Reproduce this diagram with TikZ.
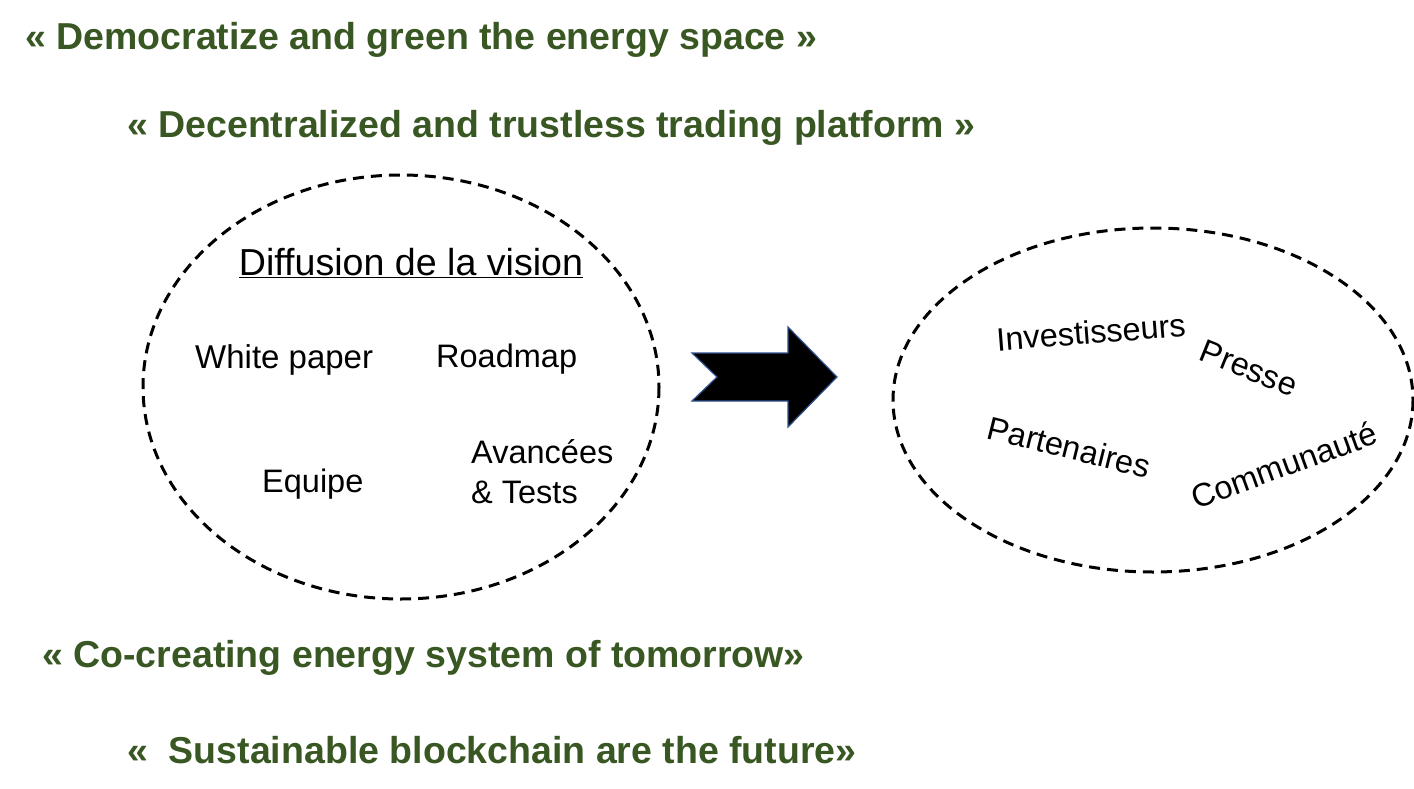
\documentclass[tikz,border=0pt]{standalone}
\usepackage{fontspec}
\setmainfont{Liberation Sans}
\definecolor{titlegreen}{HTML}{385723}
\definecolor{arrowedge}{HTML}{2F528F}
\begin{document}
\begin{tikzpicture}[x=1pt,y=-1pt,
  title/.style={anchor=west,inner sep=0pt,text=titlegreen,font=\fontsize{37.5}{44}\selectfont\bfseries},
  body/.style={inner sep=0pt,font=\fontsize{32.5}{38}\selectfont},
  dashell/.style={draw,line width=3pt,dash pattern=on 11pt off 7pt}]
\useasboundingbox (0,0) rectangle (1414,789);
\node[title] (t1) at (25,40) {« Democratize and green the energy space »};
\node[title] (t2) at (127,128) {« Decentralized and trustless trading platform »};
\node[title] (t3) at (42,658) {« Co-creating energy system of tomorrow»};
\node[title] (t4) at (127,750) {«\ \ Sustainable blockchain are the future»};
% left ellipse
\draw[dashell] (401,387) ellipse [x radius=258, y radius=212];
\node[body,font=\fontsize{37.6}{44}\selectfont] (diff) at (411,263) {\underline{Diffusion de la vision}};
\node[body,anchor=west,font=\fontsize{33}{38}\selectfont] (wp) at (195,360) {White paper};
\node[body,anchor=west] (rm) at (436,359) {Roadmap};
\node[body,anchor=west] (eq) at (262,484) {Equipe};
\node[body,anchor=west,align=left,font=\fontsize{32.5}{40}\selectfont] (av) at (471,472) {Avancées\\\& Tests};
% arrow
\draw[fill=black,draw=arrowedge,line width=1.2pt,line join=miter]
  (692,353) -- (788,353) -- (788,327) -- (837,377) -- (788,427) -- (788,401) -- (692,401) -- (717,377) -- cycle;
% right ellipse
\draw[dashell] (1153,400) ellipse [x radius=260, y radius=172];
\node[body,rotate=4.5] (inv) at (1091,332) {Investisseurs};
\node[body,rotate=-22] (pr) at (1249,368) {Presse};
\node[body,rotate=-14] (pa) at (1069,447) {Partenaires};
\node[body,rotate=20] (co) at (1284,465) {Communauté};
\end{tikzpicture}
\end{document}
